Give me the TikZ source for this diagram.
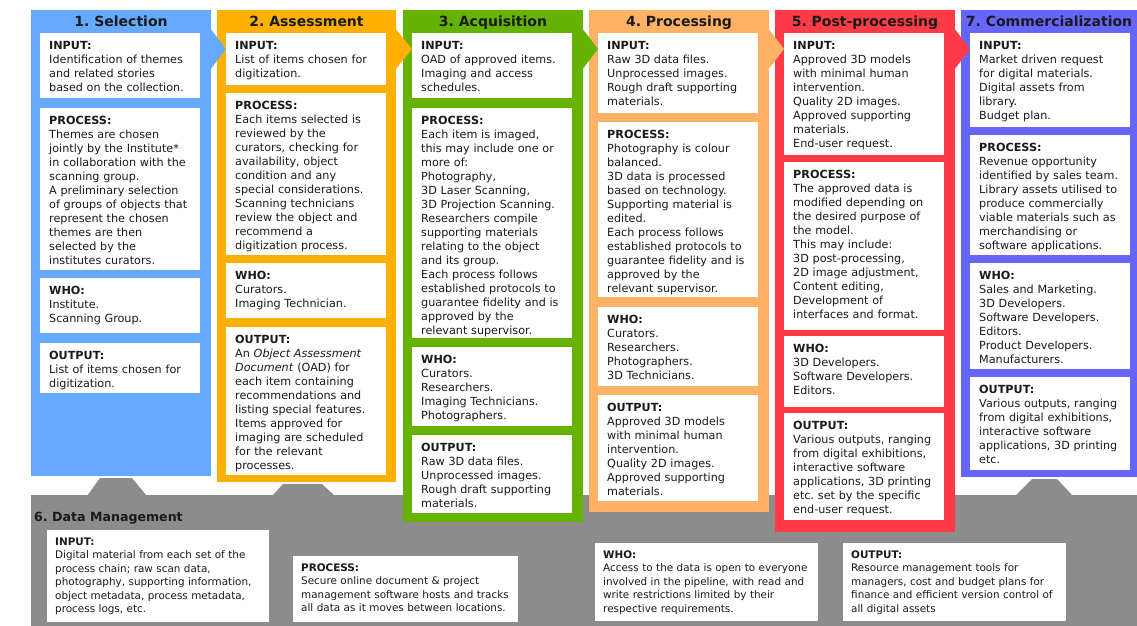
\documentclass[tikz,border=0pt]{standalone}
\usepackage{fontspec}
\setmainfont{DejaVu Sans}
\usepackage{xcolor}
\usepackage{tikz}
\definecolor{selblue}{HTML}{66AAFF}
\definecolor{assorange}{HTML}{FFB000}
\definecolor{acqgreen}{HTML}{66B200}
\definecolor{procorange}{HTML}{FFB266}
\definecolor{postred}{HTML}{FF3B47}
\definecolor{compurple}{HTML}{6666FF}
\definecolor{dmgray}{HTML}{8C8C8C}
\definecolor{ink}{HTML}{1A1A1A}
\newcommand{\hdg}[1]{\textbf{#1}}
\frenchspacing

\begin{document}
\begin{tikzpicture}[
  x=1pt, y=-1pt,
  wbox/.style={fill=white, anchor=north west, inner xsep=9pt, inner ysep=0pt, text width=142pt,
    align=left, text height=16pt, text=ink, font=\fontsize{11.2}{14}\selectfont},
  dbox/.style={fill=white, anchor=north west, inner xsep=8pt, inner ysep=0pt,
    align=left, text height=15pt, text=ink, font=\fontsize{10.4}{13.5}\selectfont},
  head/.style={anchor=base, inner sep=0pt, text=ink, font=\bfseries\fontsize{14}{16}\selectfont},
]
\useasboundingbox (0,0) rectangle (1137,626);
% ---------------- 6. data management band ----------------
\fill[dmgray] (31,495) rectangle (1137,626);
\fill[dmgray] (100,478) -- (132,478) -- (147,496) -- (87,496) -- cycle;
\fill[dmgray] (283,484) -- (322,484) -- (335,496) -- (272,496) -- cycle;
\fill[dmgray] (1032,479) -- (1057,479) -- (1073,496) -- (1015,496) -- cycle;
% ---------------- columns ----------------
\fill[selblue] (31,10) rectangle (211,476);
\fill[assorange] (217,10) rectangle (396,482);
\fill[acqgreen] (403,10) rectangle (583,522);
\fill[procorange] (589,10) rectangle (769,512);
\fill[postred] (775,10) rectangle (955,532);
\fill[compurple] (961,10) rectangle (1137,477);
% arrow notches into the next column
\fill[selblue] (210,28) -- (226,49) -- (210,70) -- cycle;
\fill[assorange] (395,28) -- (412,49) -- (395,70) -- cycle;
\fill[acqgreen] (582,28) -- (598,49) -- (582,70) -- cycle;
\fill[procorange] (768,28) -- (784,49) -- (768,70) -- cycle;
\fill[postred] (954,28) -- (970,49) -- (954,70) -- cycle;
% ---------------- 1. Selection ----------------
\node[head] (t1) at (121,27) {1. Selection};
\node[wbox, text depth=49pt] (in1) at (40,33) {\hdg{INPUT:}\\Identification of themes\\and related stories\\based on the collection.};
\node[wbox, text depth=146pt] (pr1) at (40,108) {\hdg{PROCESS:}\\Themes are chosen\\jointly by the Institute*\\in collaboration with the\\scanning group.\\A preliminary selection\\of groups of objects that\\represent the chosen\\themes are then\\selected by the\\institutes curators.};
\node[wbox, text depth=39pt] (wh1) at (40,278) {\hdg{WHO:}\\Institute.\\Scanning Group.};
\node[wbox, text depth=34pt] (ou1) at (40,343) {\hdg{OUTPUT:}\\List of items chosen for\\digitization.};
% ---------------- 2. Assessment ----------------
\node[head] (t2) at (306.5,27) {2. Assessment};
\node[wbox, text depth=36pt] (in2) at (226,33) {\hdg{INPUT:}\\List of items chosen for\\digitization.};
\node[wbox, text depth=146pt] (pr2) at (226,93) {\hdg{PROCESS:}\\Each items selected is\\reviewed by the\\curators, checking for\\availability, object\\condition and any\\special considerations.\\Scanning technicians\\review the object and\\recommend a\\digitization process.};
\node[wbox, text depth=39pt] (wh2) at (226,263) {\hdg{WHO:}\\Curators.\\Imaging Technician.};
\node[wbox, text depth=132pt] (ou2) at (226,327) {\hdg{OUTPUT:}\\An \textit{Object Assessment}\\\textit{Document} (OAD) for\\each item containing\\recommendations and\\listing special features.\\Items approved for\\imaging are scheduled\\for the relevant\\processes.};
% ---------------- 3. Acquisition ----------------
\node[head] (t3) at (493,27) {3. Acquisition};
\node[wbox, text depth=49pt] (in3) at (412,33) {\hdg{INPUT:}\\OAD of approved items.\\Imaging and access\\schedules.};
\node[wbox, text depth=214pt] (pr3) at (412,108) {\hdg{PROCESS:}\\Each item is imaged,\\this may include one or\\more of:\\Photography,\\3D Laser Scanning,\\3D Projection Scanning.\\Researchers compile\\supporting materials\\relating to the object\\and its group.\\Each process follows\\established protocols to\\guarantee fidelity and is\\approved by the\\relevant supervisor.};
\node[wbox, text depth=63pt] (wh3) at (412,347) {\hdg{WHO:}\\Curators.\\Researchers.\\Imaging Technicians.\\Photographers.};
\node[wbox, text depth=62pt] (ou3) at (412,435) {\hdg{OUTPUT:}\\Raw 3D data files.\\Unprocessed images.\\Rough draft supporting\\materials.};
% ---------------- 4. Processing ----------------
\node[head] (t4) at (679,27) {4. Processing};
\node[wbox, text depth=64pt] (in4) at (598,33) {\hdg{INPUT:}\\Raw 3D data files.\\Unprocessed images.\\Rough draft supporting\\materials.};
\node[wbox, text depth=159pt] (pr4) at (598,122) {\hdg{PROCESS:}\\Photography is colour\\balanced.\\3D data is processed\\based on technology.\\Supporting material is\\edited.\\Each process follows\\established protocols to\\guarantee fidelity and is\\approved by the\\relevant supervisor.};
\node[wbox, text depth=63pt] (wh4) at (598,307) {\hdg{WHO:}\\Curators.\\Researchers.\\Photographers.\\3D Technicians.};
\node[wbox, text depth=90pt] (ou4) at (598,395) {\hdg{OUTPUT:}\\Approved 3D models\\with minimal human\\intervention.\\Quality 2D images.\\Approved supporting\\materials.};
% ---------------- 5. Post-processing ----------------
\node[head] (t5) at (865,27) {5. Post-processing};
\node[wbox, text depth=106pt] (in5) at (784,33) {\hdg{INPUT:}\\Approved 3D models\\with minimal human\\intervention.\\Quality 2D images.\\Approved supporting\\materials.\\End-user request.};
\node[wbox, text depth=152pt] (pr5) at (784,162) {\hdg{PROCESS:}\\The approved data is\\modified depending on\\the desired purpose of\\the model.\\This may include:\\3D post-processing,\\2D image adjustment,\\Content editing,\\Development of\\interfaces and format.};
\node[wbox, text depth=55pt] (wh5) at (784,336) {\hdg{WHO:}\\3D Developers.\\Software Developers.\\Editors.};
\node[wbox, text depth=91pt] (ou5) at (784,413) {\hdg{OUTPUT:}\\Various outputs, ranging\\from digital exhibitions,\\interactive software\\applications, 3D printing\\etc. set by the specific\\end-user request.};
% ---------------- 7. Commercialization ----------------
\node[head] (t7) at (1049,27) {7. Commercialization};
\node[wbox, text depth=78pt] (in7) at (970,33) {\hdg{INPUT:}\\Market driven request\\for digital materials.\\Digital assets from\\library.\\Budget plan.};
\node[wbox, text depth=104pt] (pr7) at (970,135) {\hdg{PROCESS:}\\Revenue opportunity\\identified by sales team.\\Library assets utilised to\\produce commercially\\viable materials such as\\merchandising or\\software applications.};
\node[wbox, text depth=90pt] (wh7) at (970,263) {\hdg{WHO:}\\Sales and Marketing.\\3D Developers.\\Software Developers.\\Editors.\\Product Developers.\\Manufacturers.};
\node[wbox, text depth=77pt] (ou7) at (970,377) {\hdg{OUTPUT:}\\Various outputs, ranging\\from digital exhibitions,\\interactive software\\applications, 3D printing\\etc.};
% ---------------- 6. Data Management ----------------
\node[head, anchor=base west, font=\bfseries\fontsize{12.6}{15}\selectfont] (t6) at (34,521) {6. Data Management};
\node[dbox, text width=206pt, text depth=77pt] (in6) at (47,530) {\hdg{INPUT:}\\Digital material from each set of the\\process chain; raw scan data,\\photography, supporting information,\\object metadata, process metadata,\\process logs, etc.};
\node[dbox, text width=209pt, text depth=51pt] (pr6) at (293,556) {\hdg{PROCESS:}\\Secure online document \& project\\management software hosts and tracks\\all data as it moves between locations.};
\node[dbox, text width=207pt, text depth=63pt] (wh6) at (595,543) {\hdg{WHO:}\\Access to the data is open to everyone\\involved in the pipeline, with read and\\write restrictions limited by their\\respective requirements.};
\node[dbox, text width=207pt, text depth=63pt] (ou6) at (843,543) {\hdg{OUTPUT:}\\Resource management tools for\\managers, cost and budget plans for\\finance and efficient version control of\\all digital assets};
\end{tikzpicture}
\end{document}
